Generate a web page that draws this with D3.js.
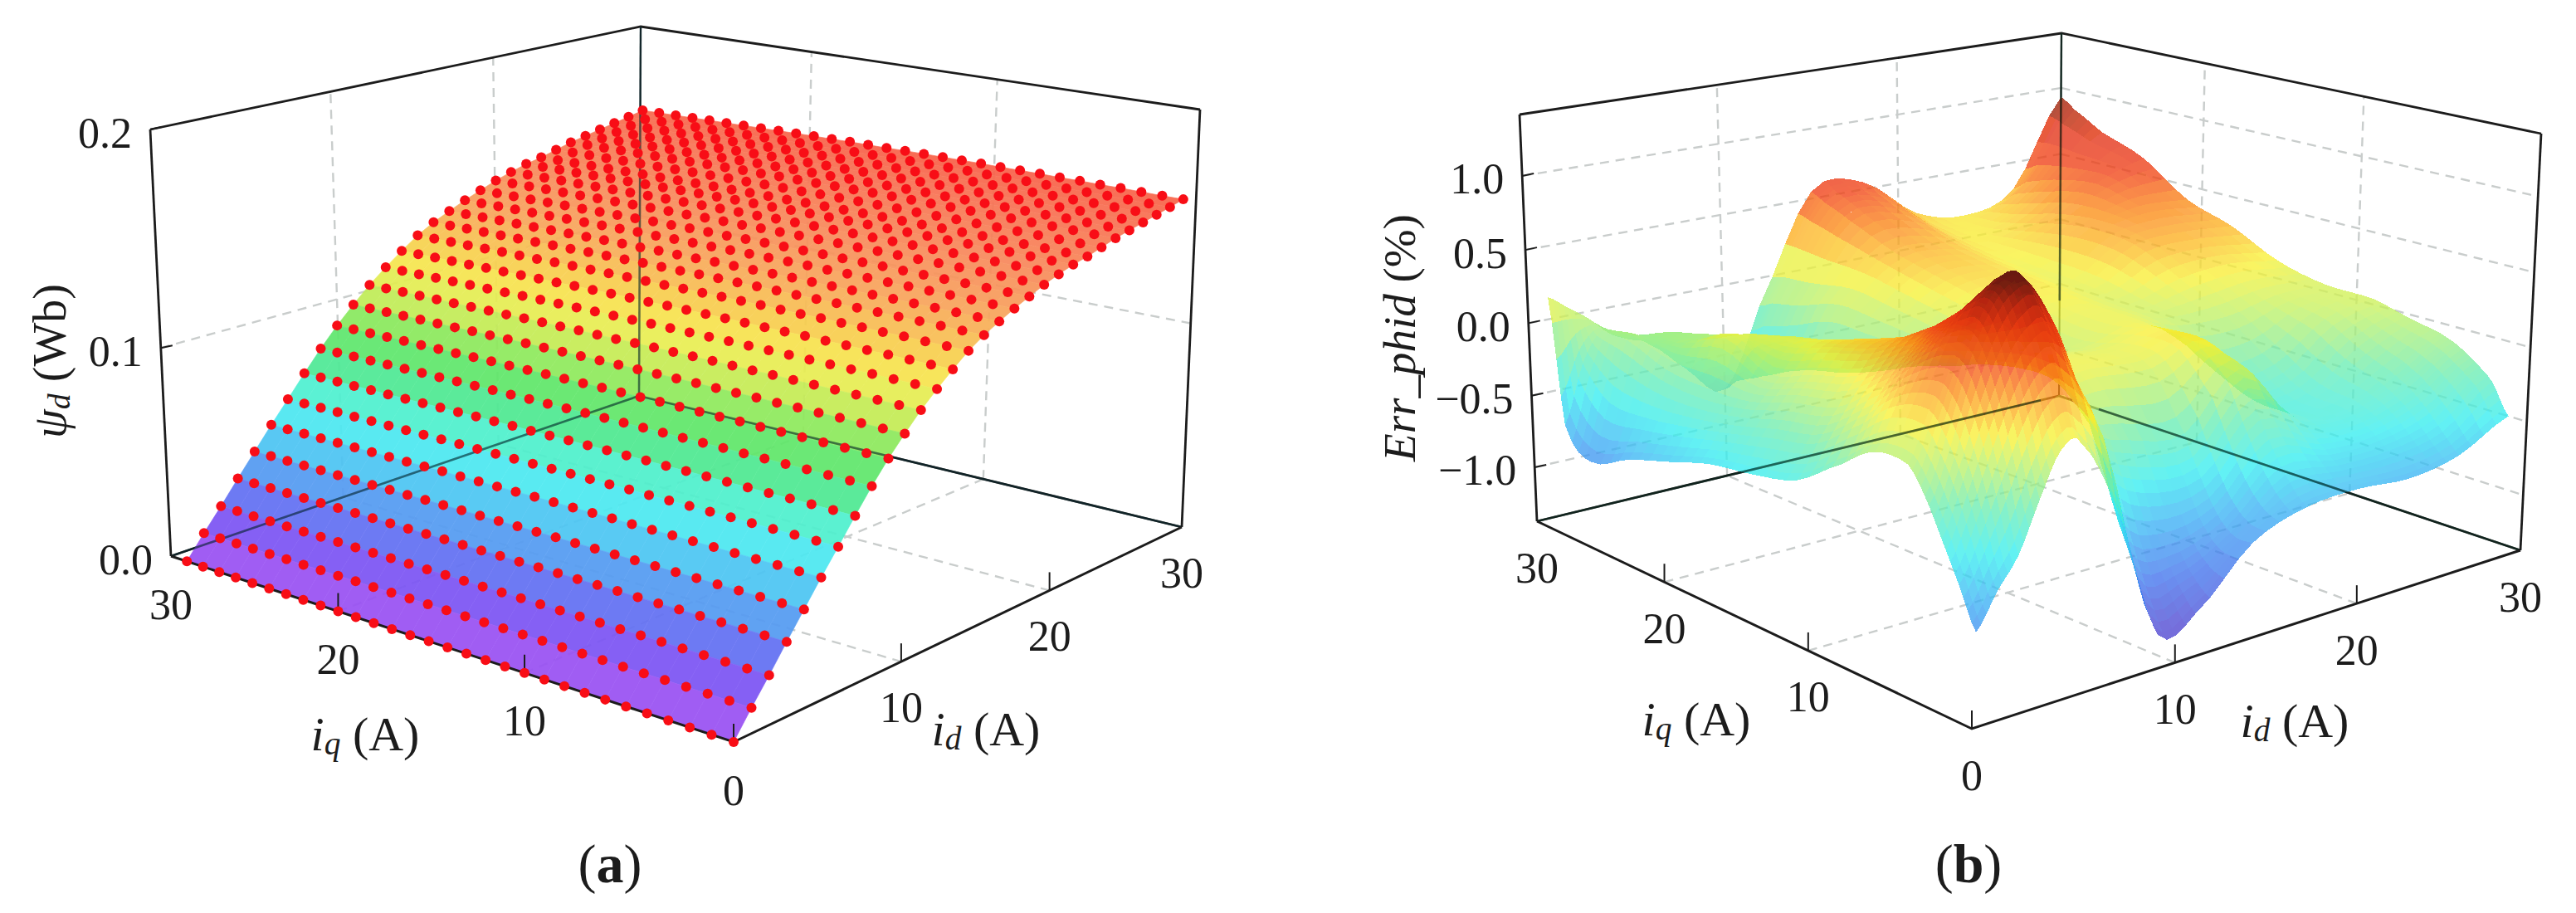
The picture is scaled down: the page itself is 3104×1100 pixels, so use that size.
<!DOCTYPE html>
<html><head><meta charset="utf-8">
<script src="https://cdnjs.cloudflare.com/ajax/libs/d3/7.8.5/d3.min.js"></script>
<style>html,body{margin:0;padding:0;background:#fff}svg{display:block}text{font-family:'Liberation Serif','Times New Roman',serif;fill:#1c1c1c}</style>
</head><body><svg id="chart" width="3104" height="1100"></svg>
<script>
// ---------- panel (a) values ----------
const idA = [0,1,2,3,4,5,6,7,8,9,10,11,12,13,14,15,16,17,18,19,20,21,22,23,24,25,26,27,28,29];
const iqA = [0,1,2,3,4,5,6,7,8,9,10,11,12,13,14,15,16,17,18,19,20,21,22,23,24,25,26,27,28,29];
const psiById = [0,.0109,.0212,.032,.0425,.053,.063,.0732,.083,.092,.100,.1075,.114,.120,.1256,.130,.1336,.137,.140,.143,.1454,.1475,.149,.151,.153,.1545,.156,.1575,.159,.1606];
const iqFactor = [1,1,1.001,1.002,1.002,1.003,1.003,1.004,1.004,1.004,1.005,1.005,1.005,1.005,1.005,1.004,1.004,1.004,1.003,1.003,1.002,1.001,1,.999,.998,.997,.996,.995,.994,.993];
const psiStops = [0,.011,.021,.032,.043,.053,.063,.073,.083,.092,.103,.114,.125,.134,.145,.155,.162];
const psiColors = ['#a852f2','#8a50f4','#6e58f4','#5a88f2','#50b0f2','#4cdcf4','#50f4ee','#50ecb0','#50e678','#70e860','#c0ec58','#f6ee50','#f8c850','#f8a85c','#f88c5c','#f87454','#f86048'];
const zTicksA = [0,.1,.2];
// ---------- panel (b) values ----------
const idB = [1,2,3,4,5,6,8,10,12,15,18,21,24,27,30];
const iqB = [1,2,3,4,5,7,9,12,15,18,21,24,27,29,30];
const errRow01 = [-.89,-.68,-.5,-.2,.06,.07,-.45,-1.25,-1.19,-.85,-.72,-.70,-.73,-.67,-.5];
const errRow02 = [-.65,-.4,-.1,.2,.4,.4,0,-1.0,-1.05,-.85,-.6,-.62,-.62,-.55,-.3];
const errRow03 = [-.42,-.1,.25,.55,.72,.72,.12,-.7,-.85,-.75,-.42,-.52,-.52,-.42,-.2];
const errRow04 = [-.2,.12,.5,.8,.95,.92,.4,-.35,-.55,-.55,-.2,-.42,-.44,-.32,-.12];
const errRow05 = [-.05,.25,.55,.8,.92,.95,.6,-.1,-.25,-.3,.03,-.36,-.4,-.25,-.07];
const errRow07 = [-.05,.2,.42,.58,.68,.72,.5,.1,.08,.05,.15,-.35,-.38,-.15,-.02];
const errRow09 = [-.2,.02,.22,.38,.5,.52,.4,.12,.12,.1,.15,-.25,-.25,-.02,.04];
const errRow12 = [-.42,-.22,-.02,.15,.3,.33,.28,.05,.05,.02,.12,0,-.02,.05,.05];
const errRow15 = [-.5,-.3,-.1,.05,.2,.22,.15,-.05,-.1,.05,.13,.05,.15,.18,.13];
const errRow18 = [-.55,-.38,-.2,-.05,.1,.12,.03,-.2,-.05,.15,.18,.1,.3,.32,.29];
const errRow21 = [-.65,-.45,-.22,.08,.08,.05,-.05,-.32,-.02,.22,.22,.12,.33,.42,.4];
const errRow24 = [-.75,-.5,-.2,-.05,-.05,-.05,-.22,-.4,0,.3,.28,.15,.28,.5,.62];
const errRow27 = [-.88,-.5,-.1,-.1,-.1,-.15,-.35,-.55,-.1,.42,.4,.18,.2,.45,.74];
const errRow29 = [-.7,-.3,-.1,-.15,-.2,-.25,-.45,-.65,-.15,.5,.5,.22,.18,.38,.86];
const errRow30 = [.15,.05,-.05,-.18,-.25,-.31,-.55,-.75,-.2,.55,.55,.26,.17,.3,.93];
const errRows = [errRow01,errRow02,errRow03,errRow04,errRow05,errRow07,errRow09,errRow12,errRow15,errRow18,errRow21,errRow24,errRow27,errRow29,errRow30];
const errStops = [-1.25,-1,-.75,-.5,-.25,0,.15,.28,.42,.55,.72,.85,.95];
const errColors = ['#4a40d0','#3c70ec','#36acf4','#30ecf0','#68ecb0','#c0f060','#f8f030','#fcb820','#fa7a10','#f03c10','#e02808','#a81808','#601008'];
const zTicksB = [-1,-.5,0,.5,1];
const axisTicks = [0,10,20,30];

// ---------- geometry ----------
function squareToQuad(q){ // q: front, right, back, left
  const [[x0,y0],[x1,y1],[x2,y2],[x3,y3]] = q;
  const sx=x0-x1+x2-x3, sy=y0-y1+y2-y3, dx1=x1-x2, dx2=x3-x2, dy1=y1-y2, dy2=y3-y2, den=dx1*dy2-dx2*dy1;
  const g=(sx*dy2-dx2*sy)/den, h=(dx1*sy-sx*dy1)/den;
  const a=x1-x0+g*x1, b=x3-x0+h*x3, d=y1-y0+g*y1, e=y3-y0+h*y3;
  return (u,v)=>{const w=g*u+h*v+1; return [(a*u+b*v+x0)/w,(d*u+e*v+y0)/w];};
}
function makeBox(cfg){
  const bot=squareToQuad(cfg.bottom), top=squareToQuad(cfg.top);
  const U=d3.scaleLinear([0,30],[0,1]), V=d3.scaleLinear([0,30],[0,1]), W=d3.scaleLinear(cfg.zDomain,[0,1]);
  return (id,iq,z)=>{
    const u=U(id), v=V(iq), t0=W(z), t=t0*cfg.ratio/(t0*cfg.ratio+1-t0);
    const b=bot(u,v), a=top(u,v);
    return [b[0]+(a[0]-b[0])*t, b[1]+(a[1]-b[1])*t];
  };
}
const svg=d3.select('#chart');
const defs=svg.append('defs');
defs.append('filter').attr('id','soft').attr('x','-2%').attr('y','-2%').attr('width','104%').attr('height','104%')
  .append('feGaussianBlur').attr('stdDeviation',.7);
const line=d3.line();

function drawFrameBack(g,P,zTicks,z0,z1){
  const grid=g.append('g').attr('fill','none').attr('stroke','#c9cdcc').attr('stroke-width',2.4).attr('stroke-dasharray','11 8');
  const segs=[];
  [10,20].forEach(t=>{
    segs.push([P(t,30,z0),P(t,30,z1)]);   // iq=30 wall verticals
    segs.push([P(30,t,z0),P(30,t,z1)]);   // id=30 wall verticals
    segs.push([P(t,0,z0),P(t,30,z0)]);    // floor
    segs.push([P(0,t,z0),P(30,t,z0)]);
  });
  zTicks.forEach(z=>{ if(z>z0&&z<z1){ segs.push([P(0,30,z),P(30,30,z)]); segs.push([P(30,30,z),P(30,0,z)]); }});
  grid.selectAll('path').data(segs).join('path').attr('d',line);
  const fr=g.append('g').attr('fill','none').attr('stroke','#1c1c1c').attr('stroke-width',2.8);
  fr.selectAll('path').data([
    [P(0,30,z1),P(30,30,z1),P(30,0,z1)],
    [P(0,30,z0),P(0,30,z1)],
    [P(30,0,z0),P(30,0,z1)],
    [P(0,30,z0),P(30,30,z0),P(30,0,z0)]
  ]).join('path').attr('d',line);
  fr.append('path').attr('d',line([P(30,30,z0),P(30,30,z1)])).attr('stroke-width',2);
}
function drawThrough(g,segs,colorStroke,op){
  g.append('g').attr('fill','none').attr('stroke',colorStroke).attr('stroke-opacity',op).attr('stroke-width',2.6)
    .selectAll('path').data(segs).join('path').attr('d',line);
}
function drawFrameFront(g,P,z0,z1,tickLen,zTicks){
  const fr=g.append('g').attr('fill','none').attr('stroke','#1c1c1c').attr('stroke-width',3);
  fr.selectAll('path.b').data([[P(0,30,z0),P(0,0,z0),P(30,0,z0)]]).join('path').attr('class','b').attr('d',line);
  const t=[];
  [0,10,20].forEach(a=>{const p=P(0,a,z0); t.push([p,[p[0],p[1]-tickLen]]);});
  [10,20].forEach(a=>{const p=P(a,0,z0); t.push([p,[p[0],p[1]-tickLen]]);});
  zTicks.forEach(z=>{const p=P(0,30,z); t.push([p,[p[0]+14,p[1]-3]]);});
  fr.selectAll('path.t').data(t).join('path').attr('class','t').attr('stroke-width',2).attr('d',line);
}
function drawLabels(g,P,z0,zTicks,zFmt,offI,offD,fs){
  const labs=[];
  axisTicks.forEach(t=>{const p=P(0,t,z0); labs.push({x:p[0]+offI[0],y:p[1]+offI[1],s:String(t),a:'middle'});});
  axisTicks.slice(1).forEach(t=>{const p=P(t,0,z0); labs.push({x:p[0]+offD[0],y:p[1]+offD[1],s:String(t),a:'middle'});});
  zTicks.forEach(z=>{const p=P(0,30,z); labs.push({x:p[0]-22,y:p[1]+4,s:zFmt(z),a:'end'});});
  g.selectAll('text.t').data(labs).join('text').attr('class','t').attr('x',d=>d.x).attr('y',d=>d.y)
    .attr('text-anchor',d=>d.a).attr('dominant-baseline','central').attr('font-size',fs).text(d=>d.s);
}
function richText(g,x,y,parts,fs,rot){
  const t=g.append('text').attr('font-size',fs).attr('text-anchor','middle').attr('dominant-baseline','central')
    .attr('transform',`translate(${x},${y})`+(rot?` rotate(${rot})`:''));
  parts.forEach(p=>{
    const s=t.append('tspan').text(p.t);
    if(p.i) s.attr('font-style','italic');
    if(p.b) s.attr('font-weight','bold');
    if(p.sub) s.attr('font-size',fs*.68).attr('dy',fs*.2);
    if(p.up) s.attr('dy',-fs*.2);
  });
}

// ---------- panel (a) ----------
(function(){
  const P=makeBox({bottom:[[884,894],[1424,635],[770,477],[206,670]],top:[[886,295],[1446,132],[772,32],[181,156]],zDomain:[0,.2],ratio:.953});
  const g=svg.append('g');
  drawFrameBack(g,P,zTicksA,0,.2);
  const color=d3.scaleLinear().domain(psiStops).range(psiColors).interpolate(d3.interpolateRgb).clamp(true);
  const psi=(i,j)=>psiById[i]*iqFactor[j];
  const quads=[];
  for(let i=idA.length-2;i>=0;i--) for(let j=iqA.length-2;j>=0;j--){
    const pts=[[i,j],[i+1,j],[i+1,j+1],[i,j+1]];
    const avg=d3.mean(pts,p=>psi(p[0],p[1]));
    quads.push({d:line(pts.map(p=>P(idA[p[0]],iqA[p[1]],psi(p[0],p[1]))))+'Z',c:color(avg)});
  }
  g.append('g').attr('opacity',.93).attr('filter','url(#soft)').selectAll('path').data(quads).join('path')
    .attr('d',d=>d.d).attr('fill',d=>d.c).attr('stroke',d=>d.c).attr('stroke-width',.7);
  drawThrough(g,[[P(30,30,0),P(30,30,.2)],[P(0,30,0),P(30,30,0),P(30,0,0)]],'#0a2a30',.6);
  drawFrameFront(g,P,0,.2,22,[.1,.2]);
  const dots=d3.cross(d3.range(idA.length),d3.range(iqA.length)).map(([i,j])=>({i,j,p:P(idA[i],iqA[j],psi(i,j))}));
  g.append('g').attr('fill','#f80c14').attr('filter','url(#soft)').selectAll('circle').data(dots).join('circle')
    .attr('cx',d=>d.p[0]).attr('cy',d=>d.p[1]).attr('r',6);
  drawLabels(g,P,0,zTicksA,d3.format('.1f'),[0,58],[0,55],52);
  richText(g,440,884,[{t:'i',i:1},{t:'q',i:1,sub:1},{t:' (A)',up:1}],58);
  richText(g,1188,878,[{t:'i',i:1},{t:'d',i:1,sub:1},{t:' (A)',up:1}],58);
  richText(g,60,435,[{t:'ψ',i:1},{t:'d',i:1,sub:1},{t:' (Wb)',up:1}],56,-90);
  richText(g,735,1040,[{t:'('},{t:'a',b:1},{t:')'}],66);
})();

// ---------- panel (b) ----------
(function(){
  const zD=[-1.38,1.41];
  const P=makeBox({bottom:[[2376,878],[3037,663],[2481,477],[1852,628]],top:[[2378,300],[3062,161],[2484,40],[1831,138]],zDomain:zD,ratio:.97});
  const g=svg.append('g');
  drawFrameBack(g,P,zTicksB,zD[0],zD[1]);
  const color=d3.scaleLinear().domain(errStops).range(errColors).interpolate(d3.interpolateRgb).clamp(true);
  // mesh smoothing of the table for drawing only (index-space Catmull-Rom)
  const SUB=4, nI=idB.length, nJ=iqB.length;
  const cr=(a,b,c,d,t)=>.5*((2*b)+(-a+c)*t+(2*a-5*b+4*c-d)*t*t+(-a+3*b-3*c+d)*t*t*t);
  const cl=(k,n)=>Math.max(0,Math.min(n-1,k));
  const zAt=(fi,fj)=>{
    const i=Math.min(Math.floor(fi),nI-2), j=Math.min(Math.floor(fj),nJ-2), ti=fi-i, tj=fj-j;
    const rows=[-1,0,1,2].map(dj=>{const r=errRows[cl(j+dj,nJ)];return cr(r[cl(i-1,nI)],r[i],r[i+1],r[cl(i+2,nI)],ti);});
    return cr(rows[0],rows[1],rows[2],rows[3],tj);
  };
  const idIdx=d3.scaleLinear(d3.range(nI),idB), iqIdx=d3.scaleLinear(d3.range(nJ),iqB);
  const node=(fi,fj)=>P(idIdx(fi),iqIdx(fj),zAt(fi,fj));
  const quads=[];
  for(let a=(nI-1)*SUB-1;a>=0;a--) for(let b=(nJ-1)*SUB-1;b>=0;b--){
    const c=[[a,b],[a+1,b],[a+1,b+1],[a,b+1]].map(k=>[k[0]/SUB,k[1]/SUB]);
    quads.push({d:line(c.map(k=>node(k[0],k[1])))+'Z',c:color(d3.mean(c,k=>zAt(k[0],k[1]))),o:a/SUB+b/SUB});
  }
  quads.sort((p,q)=>q.o-p.o);
  g.append('g').attr('filter','url(#soft)').selectAll('path').data(quads).join('path')
    .attr('d',d=>d.d).attr('fill',d=>d.c).attr('fill-opacity',.76).attr('shape-rendering','crispEdges');
  drawThrough(g,[[P(30,30,zD[1]),P(30,30,-.63)],[P(0,30,zD[0]),P(28.8,30,zD[0])],[P(30,27,zD[0]),P(30,0,zD[0])]],'#0a2a20',.6);
  drawFrameFront(g,P,zD[0],zD[1],22,zTicksB);
  drawLabels(g,P,zD[0],zTicksB,z=>d3.format('.1f')(z).replace('-','−'),[0,56],[0,56],52);
  richText(g,2044,866,[{t:'i',i:1},{t:'q',i:1,sub:1},{t:' (A)',up:1}],58);
  richText(g,2765,868,[{t:'i',i:1},{t:'d',i:1,sub:1},{t:' (A)',up:1}],58);
  richText(g,1686,407,[{t:'Err_phid',i:1},{t:' (%)'}],55,-90);
  richText(g,2372,1040,[{t:'('},{t:'b',b:1},{t:')'}],66);
})();
</script></body></html>
